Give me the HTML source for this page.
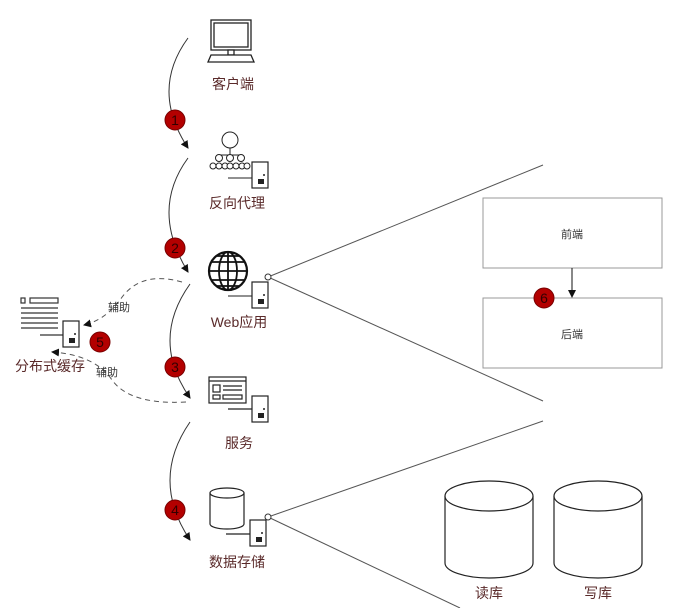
<!DOCTYPE html>
<html><head><meta charset="utf-8"><style>
html,body{margin:0;padding:0;background:#fff}
svg{display:block}
text{font-family:"Liberation Sans","Noto Sans CJK SC",sans-serif}
.lbl{font-size:14px;fill:#5a2a2a;text-anchor:middle}
.sm{font-size:11px;fill:#333;text-anchor:middle}
.num{font-size:14px;fill:#300;text-anchor:middle}
</style></head><body>
<svg width="673" height="608" viewBox="0 0 673 608" xmlns="http://www.w3.org/2000/svg">
<defs>
<marker id="ar" markerWidth="8" markerHeight="8" refX="7" refY="4" orient="auto" markerUnits="userSpaceOnUse"><path d="M0,0 L8,4 L0,8 z" fill="#111"/></marker>
<g id="srv"><rect x="0" y="0" width="16" height="26" fill="#fff" stroke="#222" stroke-width="1.2"/><rect x="6" y="17" width="6" height="5" fill="#222"/><circle cx="12" cy="13" r="1" fill="#222"/></g>
</defs>
<g stroke="#555" stroke-width="1" fill="none">
<line x1="268" y1="277" x2="543" y2="165"/>
<line x1="268" y1="277" x2="543" y2="401"/>
<line x1="268" y1="517" x2="543" y2="421"/>
<line x1="268" y1="517" x2="460" y2="608"/>
</g>
<g stroke="#333" stroke-width="1" fill="none" marker-end="url(#ar)">
<path d="M188,38 Q150,90 188,148"/>
<path d="M188,158 Q150,210 188,272"/>
<path d="M190,284 Q150,340 190,398"/>
<path d="M190,422 Q150,480 190,540"/>
</g>
<g stroke="#555" stroke-width="1" fill="none" stroke-dasharray="5,4" marker-end="url(#ar)">
<path d="M182,282 Q140,270 120,300 Q105,320 84,325"/>
<path d="M186,402 Q130,405 112,380 Q95,355 52,352"/>
</g>
<text x="119" y="311" class="sm">辅助</text>
<text x="107" y="376" class="sm">辅助</text>
<g stroke="#222" stroke-width="1.3" fill="#fff">
<rect x="211" y="20" width="40" height="30"/>
<rect x="214" y="23" width="34" height="24"/>
<rect x="228" y="50" width="6" height="5"/>
<path d="M211,55 L251,55 L254,62 L208,62 z"/>
</g>
<text x="233" y="89" class="lbl">客户端</text>
<g stroke="#222" stroke-width="1" fill="#fff">
<line x1="230" y1="148" x2="230" y2="155"/><line x1="219" y1="155" x2="241" y2="155"/>
<circle cx="230" cy="140" r="8"/>
<circle cx="219" cy="158" r="3.5"/><circle cx="230" cy="158" r="3.5"/><circle cx="241" cy="158" r="3.5"/>
<circle cx="213" cy="166" r="3"/><circle cx="219" cy="166" r="3"/><circle cx="225" cy="166" r="3"/><circle cx="230" cy="166" r="3"/><circle cx="236" cy="166" r="3"/><circle cx="242" cy="166" r="3"/><circle cx="247" cy="166" r="3"/>
<line x1="228" y1="178" x2="252" y2="178"/>
</g>
<use href="#srv" x="252" y="162"/>
<text x="237" y="208" class="lbl">反向代理</text>
<g stroke="#111" stroke-width="1.8" fill="none">
<circle cx="228" cy="271" r="19" fill="#fff" stroke-width="2.2"/>
<ellipse cx="228" cy="271" rx="9" ry="19"/>
<line x1="228" y1="252" x2="228" y2="290"/>
<line x1="209" y1="271" x2="247" y2="271"/>
<line x1="212" y1="262" x2="244" y2="262"/><line x1="212" y1="280" x2="244" y2="280"/>
<line x1="217" y1="256" x2="239" y2="256"/><line x1="217" y1="286" x2="239" y2="286"/>
</g>
<line x1="228" y1="296" x2="252" y2="296" stroke="#222"/>
<use href="#srv" x="252" y="282"/>
<circle cx="268" cy="277" r="3" fill="#fff" stroke="#333"/>
<text x="239" y="327" class="lbl">Web应用</text>
<g stroke="#333" stroke-width="1.2" fill="#fff">
<rect x="21" y="298" width="4" height="5"/><rect x="30" y="298" width="28" height="5"/>
<line x1="21" y1="308" x2="58" y2="308"/><line x1="21" y1="313" x2="58" y2="313"/>
<line x1="21" y1="318" x2="58" y2="318"/><line x1="21" y1="323" x2="58" y2="323"/>
<line x1="21" y1="328" x2="58" y2="328"/>
<line x1="40" y1="335" x2="63" y2="335"/>
</g>
<use href="#srv" x="63" y="321"/>
<text x="50" y="371" class="lbl">分布式缓存</text>
<g stroke="#222" stroke-width="1.2" fill="#fff">
<rect x="209" y="377" width="37" height="26"/>
<line x1="209" y1="381" x2="246" y2="381"/>
<rect x="213" y="385" width="7" height="7"/>
<line x1="223" y1="386" x2="242" y2="386"/><line x1="223" y1="390" x2="242" y2="390"/>
<rect x="213" y="395" width="7" height="4"/><rect x="223" y="395" width="19" height="4"/>
<line x1="228" y1="409" x2="252" y2="409"/>
</g>
<use href="#srv" x="252" y="396"/>
<text x="239" y="448" class="lbl">服务</text>
<g stroke="#222" stroke-width="1.2" fill="#fff">
<path d="M210,493 L210,524 A17,5 0 0 0 244,524 L244,493"/>
<ellipse cx="227" cy="493" rx="17" ry="5"/>
<line x1="226" y1="534" x2="250" y2="534"/>
</g>
<use href="#srv" x="250" y="520"/>
<circle cx="268" cy="517" r="3" fill="#fff" stroke="#333"/>
<text x="237" y="567" class="lbl">数据存储</text>
<rect x="483" y="198" width="179" height="70" fill="#fff" stroke="#999"/>
<rect x="483" y="298" width="179" height="70" fill="#fff" stroke="#999"/>
<text x="572" y="238" class="sm">前端</text>
<text x="572" y="338" class="sm">后端</text>
<line x1="572" y1="268" x2="572" y2="297" stroke="#111" marker-end="url(#ar)"/>
<g stroke="#222" stroke-width="1.2" fill="#fff">
<path d="M445,496 L445,563 A44,15 0 0 0 533,563 L533,496"/>
<ellipse cx="489" cy="496" rx="44" ry="15"/>
<path d="M554,496 L554,563 A44,15 0 0 0 642,563 L642,496"/>
<ellipse cx="598" cy="496" rx="44" ry="15"/>
</g>
<text x="489" y="598" class="lbl">读库</text>
<text x="598" y="598" class="lbl">写库</text>
<g fill="#b30000" stroke="#700" stroke-width="1">
<circle cx="175" cy="120" r="10"/><circle cx="175" cy="248" r="10"/>
<circle cx="175" cy="367" r="10"/><circle cx="175" cy="510" r="10"/>
<circle cx="100" cy="342" r="10"/><circle cx="544" cy="298" r="10"/>
</g>
<text x="175" y="125" class="num">1</text><text x="175" y="253" class="num">2</text>
<text x="175" y="372" class="num">3</text><text x="175" y="515" class="num">4</text>
<text x="100" y="347" class="num">5</text><text x="544" y="303" class="num">6</text>
</svg>
</body></html>
